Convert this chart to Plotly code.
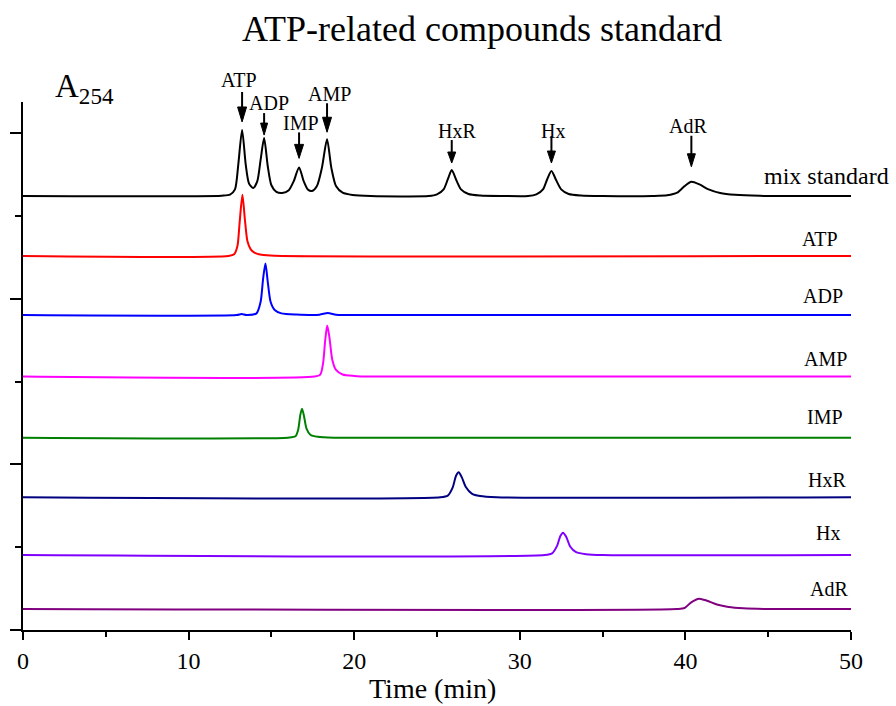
import plotly.graph_objects as go

# ---------------- data ----------------
# retention time (min) and height above each trace's own baseline (a.u.)
mix_t = [0, 12.0, 12.5, 12.8, 13.0, 13.23, 13.45, 13.65, 13.9, 14.15, 14.35, 14.56, 14.78, 15.0, 15.3,
         15.65, 16.05, 16.35, 16.67, 16.95, 17.2, 17.45, 17.75, 18.05, 18.36, 18.62, 18.9, 19.3, 19.9,
         21.0, 24.5, 25.0, 25.4, 25.65, 25.89, 26.15, 26.45, 26.9, 27.6, 29.0, 30.5, 31.0, 31.4, 31.65,
         31.91, 32.2, 32.5, 32.95, 33.7, 35.0, 38.0, 38.9, 39.5, 39.95, 40.36, 40.85, 41.4, 42.1, 43.0,
         44.5, 50]
mix_a = [0, 0.002, 0.008, 0.04, 0.19, 0.399, 0.19, 0.075, 0.048, 0.09, 0.22, 0.350, 0.18, 0.065, 0.025,
         0.018, 0.035, 0.09, 0.173, 0.09, 0.04, 0.03, 0.06, 0.17, 0.343, 0.17, 0.06, 0.02, 0.006,
         0, 0, 0.01, 0.04, 0.1, 0.157, 0.1, 0.04, 0.012, 0.003, 0, 0, 0.01, 0.04, 0.1,
         0.151, 0.095, 0.04, 0.012, 0.003, 0, 0, 0.004, 0.02, 0.06, 0.086, 0.07, 0.04, 0.018, 0.007,
         0.001, 0]

atp_t = [0, 12.4, 12.75, 12.95, 13.08, 13.25, 13.4, 13.55, 13.75, 14.0, 14.4, 15.2, 50]
atp_a = [0, 0, 0.01, 0.06, 0.2, 0.369, 0.22, 0.09, 0.04, 0.018, 0.007, 0.001, 0]

adp_t = [0, 12.9, 13.2, 13.5, 14.1, 14.35, 14.5, 14.64, 14.78, 14.95, 15.2, 15.6, 16.5, 17.9, 18.4, 18.9, 19.5, 50]
adp_a = [0, 0, 0.006, 0, 0.01, 0.08, 0.22, 0.312, 0.2, 0.08, 0.03, 0.01, 0.003, 0.002, 0.012, 0.002, 0, 0]

amp_t = [0, 17.6, 17.95, 18.12, 18.25, 18.37, 18.5, 18.68, 18.9, 19.3, 20.0, 21.0, 50]
amp_a = [0, 0, 0.012, 0.08, 0.22, 0.308, 0.24, 0.1, 0.04, 0.013, 0.004, 0, 0]

imp_t = [0, 16.0, 16.45, 16.62, 16.75, 16.85, 16.97, 17.12, 17.35, 17.8, 18.8, 50]
imp_a = [0, 0, 0.008, 0.05, 0.14, 0.175, 0.13, 0.055, 0.018, 0.005, 0, 0]

hxr_t = [0, 25.2, 25.65, 25.95, 26.15, 26.31, 26.5, 26.75, 27.1, 27.6, 28.6, 50]
hxr_a = [0, 0, 0.01, 0.06, 0.13, 0.151, 0.12, 0.06, 0.022, 0.007, 0, 0]

hx_t = [0, 31.5, 31.95, 32.25, 32.45, 32.61, 32.8, 33.05, 33.4, 34.0, 35.0, 50]
hx_a = [0, 0, 0.01, 0.055, 0.115, 0.135, 0.11, 0.05, 0.017, 0.005, 0, 0]

adr_t = [0, 39.5, 39.95, 40.35, 40.83, 41.3, 41.9, 42.6, 43.5, 45.0, 50]
adr_a = [0, 0, 0.006, 0.04, 0.062, 0.05, 0.027, 0.012, 0.004, 0, 0]

trace_names = ["mix standard", "ATP", "ADP", "AMP", "IMP", "HxR", "Hx", "AdR"]
trace_t = [mix_t, atp_t, adp_t, amp_t, imp_t, hxr_t, hx_t, adr_t]
trace_a = [mix_a, atp_a, adp_a, amp_a, imp_a, hxr_a, hx_a, adr_a]
# vertical stacking offsets of the chromatograms
trace_offset = [2.622, 2.260, 1.903, 1.531, 1.162, 0.802, 0.453, 0.127]

# peaks identified in the mix standard
peak_names = ["ATP", "ADP", "IMP", "AMP", "HxR", "Hx", "AdR"]
peak_times = [13.23, 14.56, 16.67, 18.36, 25.89, 31.91, 40.36]
peak_heights = [0.399, 0.350, 0.173, 0.343, 0.157, 0.151, 0.086]

x_ticks = [0, 10, 20, 30, 40, 50]
Y_MAX = 3.19

# ---------------- styles ----------------
colors = ["#000000", "#ff0000", "#0000ff", "#ff00ff", "#008000", "#000080", "#8000ff", "#800080"]
FONT = "Times New Roman, Liberation Serif, serif"
# right-hand labels: centre (px from left of figure), y shift above baseline (px), font size
lab_px = [826, 820, 823, 825, 825, 826.5, 828, 828.5]
lab_dy = [20, 17, 19, 18, 21, 17, 22, 20]
lab_fs = [24, 20, 20, 20, 20, 20, 20, 20]
# arrows over peaks: gap above apex, arrow length, head length/half-width, label shift (px)
arr_gap = [8, 3, 9, 7, 7, 8, 15]
arr_len = [30, 22, 26, 29, 23, 27, 31]
arr_hl = [15, 12, 14, 15, 11, 12, 13]
arr_hw = [4.5, 3.5, 4.5, 4.5, 4, 4, 4]
lab_up = [12, 10, 9, 9, 9, 5, 10]
lab_dx = [-3, 5, 2, 2, 5, 2, -3]

W, H = 896, 706
ML, MR, MT, MB = 21, 45, 102, 76
PW = W - ML - MR
PH = H - MT - MB

fig = go.Figure()
for name, t, a, off, c in zip(trace_names, trace_t, trace_a, trace_offset, colors):
    fig.add_trace(go.Scatter(
        x=t, y=[v + off for v in a], mode="lines", name=name,
        line=dict(color=c, width=2, shape="spline", smoothing=0.7),
        showlegend=False, hoverinfo="skip"))

annotations = []
shapes = []
# labels at right
for name, off, px, dy, fs in zip(trace_names, trace_offset, lab_px, lab_dy, lab_fs):
    annotations.append(dict(
        xref="paper", yref="y", x=(px - ML) / PW, y=off, yshift=dy,
        text=name, showarrow=False, xanchor="center", yanchor="middle",
        font=dict(family=FONT, size=fs, color="black")))

# peak arrows in the mix standard
mix_off = trace_offset[0]
for name, t, h, gap, ln, hl, hw, up, dx in zip(peak_names, peak_times, peak_heights,
                                               arr_gap, arr_len, arr_hl, arr_hw, lab_up, lab_dx):
    ytop = mix_off + h
    yfrac = ytop / Y_MAX
    # shaft
    shapes.append(dict(
        type="path", xref="x", yref="paper", xsizemode="pixel", ysizemode="pixel",
        xanchor=t, yanchor=yfrac,
        path=f"M 0,{gap + hl - 1} L 0,{gap + ln}",
        line=dict(color="black", width=2)))
    # head
    shapes.append(dict(
        type="path", xref="x", yref="paper", xsizemode="pixel", ysizemode="pixel",
        xanchor=t, yanchor=yfrac,
        path=f"M {-hw},{gap + hl} L {hw},{gap + hl} L 0,{gap} Z",
        fillcolor="black", line=dict(color="black", width=1)))
    # label
    annotations.append(dict(
        x=t, y=ytop, xref="x", yref="y", text=name, showarrow=False,
        xshift=dx, yshift=gap + ln + up, xanchor="center", yanchor="middle",
        font=dict(family=FONT, size=20, color="black")))

# A254 label
annotations.append(dict(
    xref="paper", yref="paper", x=(51 - ML) / PW, y=(H - MB - 89) / PH,
    text="A<sub>254</sub>", showarrow=False, xanchor="left", yanchor="middle",
    font=dict(family=FONT, size=33, color="black")))

# x-axis title
annotations.append(dict(
    xref="paper", yref="paper", x=(431 - ML) / PW, y=(H - MB - 688) / PH,
    text="Time (min)", showarrow=False, xanchor="center", yanchor="middle",
    font=dict(family=FONT, size=28, color="black")))

fig.update_layout(
    width=W, height=H,
    margin=dict(l=ML, r=MR, t=MT, b=MB),
    paper_bgcolor="white", plot_bgcolor="white",
    font=dict(family=FONT, color="black"),
    title=dict(text="ATP-related compounds standard", x=482 / W, xanchor="center",
               xref="container", yref="container", y=1 - 28 / H, yanchor="middle",
               font=dict(family=FONT, size=36, color="black")),
    xaxis=dict(range=[0, 50], tickmode="array", tickvals=x_ticks, ticktext=[str(v) for v in x_ticks],
               showgrid=False, zeroline=False, showline=True, linecolor="black", linewidth=2,
               ticks="outside", ticklen=8, tickwidth=2, tickcolor="black",
               minor=dict(dtick=5, tick0=0, ticks="outside", ticklen=5, tickwidth=2, tickcolor="black"),
               tickfont=dict(family=FONT, size=24, color="black")),
    yaxis=dict(range=[0, Y_MAX], dtick=1, tick0=0, showticklabels=False,
               showgrid=False, zeroline=False, showline=True, linecolor="black", linewidth=2,
               ticks="outside", ticklen=11, tickwidth=2, tickcolor="black",
               minor=dict(dtick=0.5, tick0=0, ticks="outside", ticklen=6, tickwidth=2, tickcolor="black")),
    annotations=annotations, shapes=shapes,
)

fig.write_html("out.html")
